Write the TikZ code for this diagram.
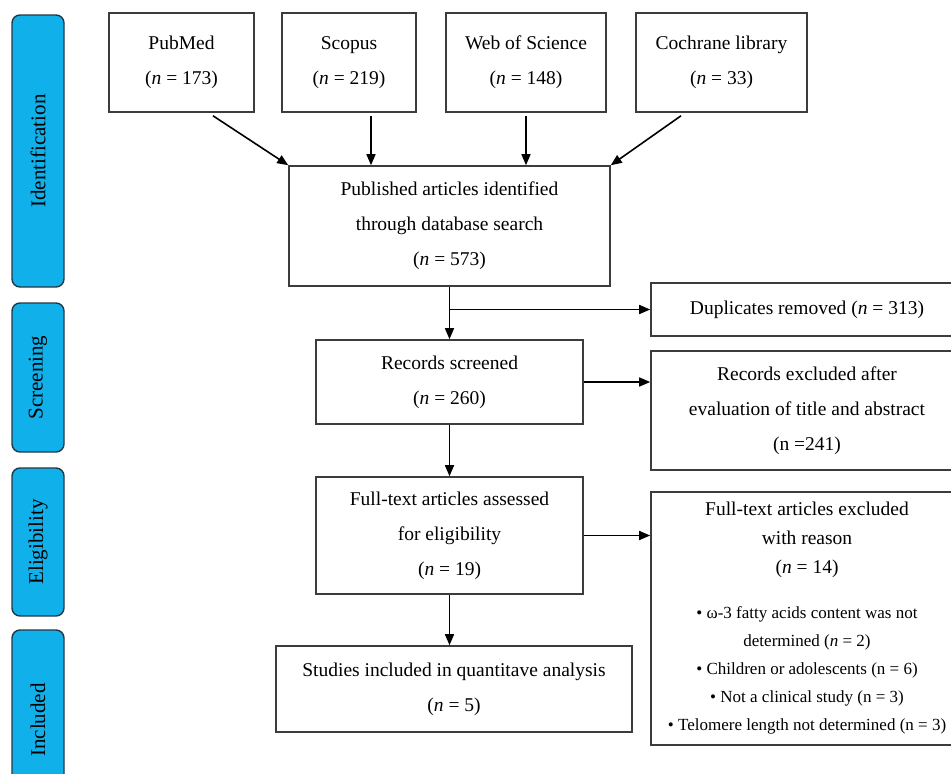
\documentclass[tikz,border=0pt]{standalone}
\usepackage{fontspec}
\setmainfont{Liberation Serif}
\usetikzlibrary{arrows.meta}
\definecolor{stagefill}{RGB}{16,176,234}
\definecolor{stageline}{RGB}{35,55,70}
\definecolor{boxline}{RGB}{60,60,60}
\tikzset{
  stage/.style={draw=stageline, line width=1.4pt, fill=stagefill, rounded corners=8pt,
    minimum height=52pt, rotate=90, inner sep=0pt, font=\fontsize{21}{24}\selectfont},
  box/.style={draw=boxline, line width=1.6pt, fill=white, align=center, inner sep=0pt,
    font=\fontsize{19.5}{35}\selectfont},
  arrow/.style={-{Triangle[length=11pt,width=9pt]}, line width=1.6pt, black}
}
\begin{document}
\begin{tikzpicture}[x=1pt,y=-1pt]
  \clip (0,0) rectangle (951,774);
  % stage labels on the left
  \node[stage, minimum width=272pt] (ident) at (38,151) {Identification};
  \node[stage, minimum width=149pt] (screen) at (38,377.5) {Screening};
  \node[stage, minimum width=148pt] (elig) at (38,542) {Eligibility};
  \node[stage, minimum width=180pt] (incl) at (38,720) {Included};

  % databases
  \node[box, minimum width=145pt, minimum height=99pt] (pubmed) at (181.5,62.5) {PubMed\\(\textit{n} = 173)};
  \node[box, minimum width=134pt, minimum height=99pt] (scopus) at (349,62.5) {Scopus\\(\textit{n} = 219)};
  \node[box, minimum width=160pt, minimum height=99pt] (wos) at (526,62.5) {Web of Science\\(\textit{n} = 148)};
  \node[box, minimum width=171pt, minimum height=99pt] (cochrane) at (721.5,62.5) {Cochrane library\\(\textit{n} = 33)};

  % main column
  \node[box, minimum width=321pt, minimum height=120pt] (published) at (449.5,226) {Published articles identified\\through database search\\(\textit{n} = 573)};
  \node[box, minimum width=267pt, minimum height=84pt] (screened) at (449.5,382) {Records screened\\(\textit{n} = 260)};
  \node[box, minimum width=267pt, minimum height=117pt] (fulltext) at (449.5,535.5) {Full-text articles assessed\\for eligibility\\(\textit{n} = 19)};
  \node[box, minimum width=356pt, minimum height=86pt] (studies) at (454,689) {Studies included in quantitave analysis\\(\textit{n} = 5)};

  % exclusions on the right
  \node[box, minimum width=312pt, minimum height=53pt] (dup) at (807,309.5) {Duplicates removed (\textit{n} = 313)};
  \node[box, minimum width=312pt, minimum height=119pt] (excl) at (807,410.5) {Records excluded after\\evaluation of title and abstract\\(n =241)};
  \node[box, minimum width=312pt, minimum height=253pt, text width=304pt, align=flush center] (ftexcl) at (807,618.5) {%
    {\fontsize{19.5}{29}\selectfont Full-text articles excluded\\with reason\\(\textit{n} = 14)\par}
    \vspace{17pt}
    {\fontsize{17}{28}\selectfont • ω-3 fatty acids content was not\\determined (\textit{n} = 2)\\• Children or adolescents (n = 6)\\• Not a clinical study (n = 3)\\• Telomere length not determined (n = 3)\par}};

  % connectors
  \draw[arrow] ([xshift=31.5pt,yshift=-3pt]pubmed.south) -- (published.north west);
  \draw[arrow] ([xshift=22pt,yshift=-3pt]scopus.south) -- ([xshift=22pt]scopus.south |- published.north);
  \draw[arrow] ([yshift=-3pt]wos.south) -- (wos.south |- published.north);
  \draw[arrow] ([xshift=-40.5pt,yshift=-3pt]cochrane.south) -- (published.north east);
  \draw[arrow] (published.south) -- (published.south |- screened.north);
  \draw[arrow] (published.south |- dup.west) -- (dup.west);
  \draw[arrow] (screened.east) -- (screened.east -| excl.west);
  \draw[arrow] (screened.south) -- (screened.south |- fulltext.north);
  \draw[arrow] (fulltext.east) -- (fulltext.east -| ftexcl.west);
  \draw[arrow] (fulltext.south) -- (fulltext.south |- studies.north);
\end{tikzpicture}
\end{document}
